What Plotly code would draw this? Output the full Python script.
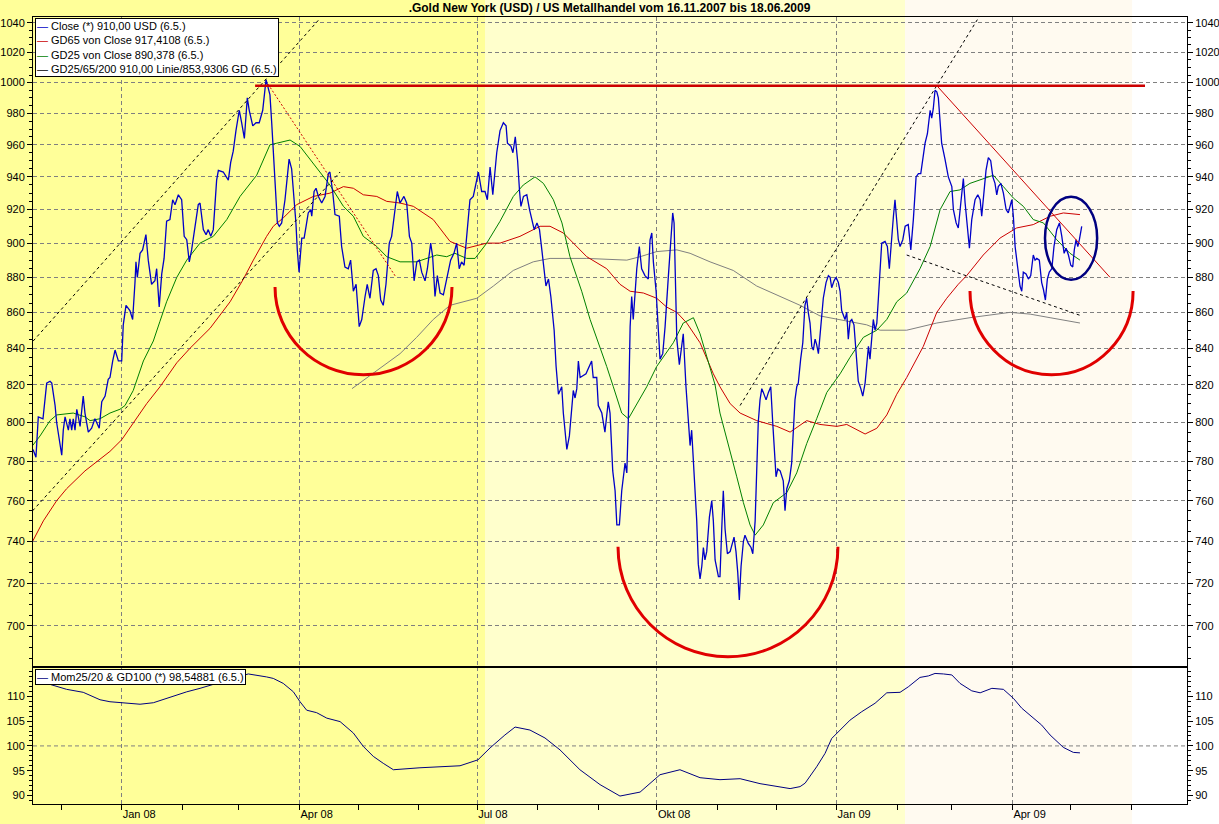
import math

import pandas as pd
import plotly.graph_objects as go

# day offsets are calendar days counted from 16.11.2007
START = pd.Timestamp("2007-11-16")

close_day = [
    0.6, 2.1, 3.3, 5.7, 7.6, 9.3, 10.2, 11.9, 12.7, 15.3,
    16.1, 17.0, 18.7, 19.5, 20.4, 21.2, 22.1, 23.0, 23.8, 24.7,
    26.3, 27.2, 28.9, 30.6, 32.3, 33.2, 34.5, 35.8, 37.5, 39.1,
    40.0, 41.4, 42.6, 44.3, 46.0, 46.8, 48.2, 50.2, 51.6, 52.8,
    53.3, 54.0, 55.4, 56.7, 58.4, 59.6, 61.3, 63.0, 63.9, 65.2,
    66.5, 67.7, 69.0, 70.7, 72.1, 73.3, 75.0, 76.7, 78.0, 79.3,
    80.6, 81.8, 83.5, 85.2, 86.1, 87.8, 89.2, 90.3, 91.6, 92.9,
    94.6, 95.5, 98.0, 100.6, 101.8, 103.1, 104.5, 106.2, 107.4, 108.8,
    110.3, 111.3, 113.1, 114.8, 116.4, 118.2, 119.9, 121.9, 122.8, 124.0,
    125.0, 125.7, 126.7, 127.9, 129.6, 130.8, 131.7, 133.0, 134.2, 135.2,
    135.9, 136.8, 138.2, 139.4, 140.4, 141.5, 142.8, 143.3, 144.5, 145.5,
    146.7, 148.4, 150.1, 151.8, 152.6, 154.0, 155.2, 157.4, 158.6, 160.3,
    162.0, 163.2, 164.6, 166.0, 167.6, 168.9, 170.6, 171.7, 173.1, 174.8,
    176.2, 177.4, 178.6, 179.9, 181.3, 183.0, 184.2, 185.9, 187.1, 188.5,
    190.5, 191.9, 193.3, 194.5, 195.7, 197.1, 198.4, 199.6, 201.3, 202.5,
    204.2, 205.2, 206.4, 207.6, 209.0, 210.7, 212.4, 214.4, 216.1, 217.5,
    218.8, 220.0, 221.3, 222.6, 224.3, 226.0, 228.6, 230.3, 232.0, 233.2,
    234.6, 236.0, 238.0, 239.7, 241.4, 242.8, 243.5, 245.3, 246.3, 247.5,
    248.7, 249.7, 250.4, 251.7, 253.4, 254.8, 256.0, 257.2, 258.6, 259.9,
    261.1, 261.9, 263.2, 264.5, 265.7, 267.4, 268.4, 269.6, 271.3, 272.1,
    273.9, 275.2, 276.4, 277.2, 278.1, 279.0, 279.8, 280.7, 283.7, 286.6,
    287.4, 289.2, 290.0, 291.8, 293.4, 295.1, 296.0, 297.4, 298.6, 299.5,
    300.8, 302.0, 303.7, 304.6, 305.4, 306.3, 307.1, 307.9, 309.7, 311.0,
    312.2, 313.9, 315.6, 316.5, 317.4, 318.2, 319.6, 320.7, 321.6, 323.0,
    324.2, 325.9, 327.1, 328.1, 328.8, 329.3, 330.2, 331.5, 332.7, 333.5,
    334.9, 336.1, 337.0, 337.8, 338.7, 339.5, 340.4, 341.2, 342.1, 343.0,
    343.8, 344.6, 345.5, 346.9, 348.1, 348.9, 349.8, 351.5, 352.3, 353.2,
    354.0, 354.9, 356.1, 357.5, 358.6, 359.5, 360.5, 361.4, 362.2, 363.1,
    364.3, 365.1, 366.8, 368.2, 369.1, 369.7, 370.3, 371.1, 371.9, 372.8,
    373.7, 374.5, 375.9, 377.1, 378.3, 379.3, 380.5, 381.0, 381.9, 383.1,
    384.7, 385.6, 386.5, 387.8, 389.0, 389.9, 390.7, 391.6, 392.4, 393.6,
    394.7, 395.8, 396.7, 397.5, 398.4, 399.3, 400.1, 401.0, 401.8, 402.7,
    403.5, 404.4, 405.2, 406.6, 407.8, 408.7, 409.5, 410.7, 411.7, 412.9,
    413.8, 414.6, 415.5, 416.3, 417.2, 418.0, 418.9, 419.8, 420.9, 422.0,
    423.1, 424.4, 425.4, 426.6, 427.4, 428.3, 429.1, 430.0, 430.8, 431.7,
    432.6, 433.4, 434.3, 435.1, 436.8, 438.0, 439.0, 440.2, 441.1, 441.9,
    442.8, 443.6, 444.5, 445.9, 447.1, 448.7, 450.0, 451.3, 452.7, 453.9,
    455.1, 456.1, 457.3, 458.5, 459.9, 460.7, 461.5, 462.4, 463.3, 464.1,
    465.8, 467.5, 469.2, 471.0, 471.8, 473.2, 474.3, 475.6, 476.9, 477.8,
    479.0, 480.0, 481.2, 482.9, 484.3, 485.5, 486.3, 487.1, 488.5, 489.7,
    490.9, 492.0, 493.1, 494.0, 494.8, 496.1, 497.4, 498.8, 499.9, 500.8,
    501.7, 502.5, 503.4, 504.8, 505.9, 506.8, 507.6, 509.0, 510.2, 511.4,
    512.7, 513.6, 514.5, 515.8, 517.0, 517.9, 518.9, 519.9, 520.9, 522.2,
    523.3, 524.7, 526.1, 527.3, 528.5, 529.5, 530.7, 531.9, 532.9, 533.7,
    534.6, 535.5, 536.3, 537.5,
]
close_val = [
    786, 782, 803, 802, 821, 822, 821, 809, 800, 783,
    796, 803, 796, 802, 796, 802, 796, 807, 803, 798,
    814, 805, 795, 797, 802, 800, 797, 811, 814, 823,
    824, 833, 839, 833, 833, 853, 864, 861, 856, 877,
    889, 880, 894, 896, 905, 890, 876, 878, 885, 863,
    882, 891, 913, 914, 926, 923, 929, 926, 904, 902,
    889, 896, 910, 923, 924, 908, 905, 908, 904, 908,
    938, 944, 943, 938, 949, 956, 969, 982, 974, 964,
    990, 982, 972, 974, 974, 982, 1002, 992, 974, 950,
    931, 912, 910, 912, 926, 942, 951, 945, 928, 912,
    896, 883, 903, 903, 910, 918, 920, 916, 931, 933,
    928, 924, 928, 942, 943, 931, 917, 916, 898, 886,
    885, 890, 872, 876, 852, 856, 869, 876, 868, 884,
    885, 881, 867, 864, 876, 900, 904, 920, 931, 924,
    928, 924, 904, 900, 878, 889, 890, 883, 878, 885,
    900, 892, 869, 881, 871, 870, 880, 890, 894, 900,
    885, 889, 887, 904, 926, 928, 943, 931, 931, 926,
    946, 929, 955, 969, 974, 972, 961, 959, 955, 965,
    950, 931, 922, 928, 929, 920, 914, 908, 912, 908,
    896, 889, 875, 879, 869, 850, 830, 815, 819, 805,
    786, 793, 809, 817, 813, 818, 833, 824, 826, 833,
    824, 824, 809, 805, 795, 811, 805, 775, 765, 748,
    748, 765, 779, 774, 802, 852, 869, 856, 885, 898,
    885, 881, 879, 902, 906, 889, 872, 850, 834, 837,
    852, 881, 904, 918, 912, 885, 845, 831, 843, 848,
    819, 800, 788, 796, 780, 770, 750, 729, 722, 728,
    737, 731, 735, 752, 760, 750, 731, 723, 723, 746,
    765, 746, 734, 735, 739, 742, 735, 725, 712, 728,
    740, 743, 739, 737, 734, 742, 750, 775, 800, 812,
    818, 816, 812, 816, 819, 800, 779, 772, 776, 775,
    770, 755, 766, 770, 779, 800, 812, 819, 821, 834,
    843, 864, 868, 860, 854, 841, 839, 845, 842, 837,
    846, 858, 868, 877, 881, 880, 874, 878, 880, 877,
    872, 861, 858, 856, 860, 845, 855, 856, 853, 839,
    822, 818, 814, 821, 832, 841, 834, 848, 856, 850,
    854, 868, 885, 900, 901, 898, 885, 906, 916, 926,
    914, 902, 898, 902, 910, 911, 896, 914, 940, 942,
    942, 951, 961, 967, 982, 977, 983, 995, 994, 990,
    961, 951, 940, 934, 920, 912, 909, 924, 939, 924,
    910, 897, 914, 926, 929, 926, 916, 926, 944, 952,
    950, 940, 936, 929, 934, 936, 930, 920, 918, 922,
    926, 916, 898, 885, 875, 872, 883, 882, 879, 881,
    893, 890, 891, 890, 877, 873, 867, 879, 883, 885,
    898, 908, 912, 904, 894, 897, 893, 887, 886, 896,
    902, 898, 902, 910,
]

gd65_day = [
    0.4, 5.9, 12.7, 17.8, 27.2, 34.9, 40.0, 46.0, 51.9, 58.8,
    65.6, 74.2, 81.0, 91.2, 101.5, 108.3, 113.4, 120.2, 123.6, 128.7,
    135.6, 144.1, 152.6, 159.5, 164.6, 169.7, 176.6, 181.7, 188.5, 195.3,
    205.5, 214.1, 222.6, 232.9, 239.7, 249.9, 260.2, 265.3, 272.1, 277.2,
    284.1, 294.3, 301.1, 306.3, 313.1, 319.9, 325.0, 330.2, 335.3, 342.1,
    348.9, 352.3, 357.5, 362.6, 371.1, 381.4, 388.2, 396.7, 403.5, 412.1,
    417.2, 426.6, 432.6, 437.7, 442.8, 447.9, 456.4, 463.3, 468.4, 474.3,
    478.6, 487.1, 495.7, 504.2, 512.7, 521.3, 528.1, 536.6,
]
gd65_val = [
    740, 750, 760, 766, 775, 781, 785, 791, 800, 810,
    819, 832, 840, 851, 866, 879, 890, 904, 910, 915,
    923, 928, 930, 934, 933, 929, 928, 925, 924, 922,
    914, 901, 897, 900, 900, 904, 910, 910, 906, 900,
    892, 885, 876, 872, 871, 868, 863, 860, 854, 843,
    826, 819, 810, 805, 801, 798, 795, 801, 799, 798,
    799, 794, 797, 804, 815, 824, 841, 860, 868, 876,
    881, 893, 903, 909, 911, 916, 918, 917,
]

gd25_day = [
    0.4, 4.2, 9.3, 12.7, 21.2, 27.2, 29.8, 34.9, 40.0, 45.1,
    47.7, 51.9, 57.1, 62.2, 65.6, 69.0, 74.2, 79.3, 86.1, 92.9,
    99.8, 106.6, 115.1, 121.9, 125.4, 132.2, 137.3, 144.1, 152.6, 159.5,
    164.6, 169.7, 176.6, 181.7, 188.5, 197.0, 207.3, 212.4, 216.6, 222.6,
    226.9, 232.9, 239.7, 246.5, 251.6, 257.6, 261.9, 267.0, 271.4, 275.5,
    281.5, 285.8, 290.9, 294.3, 297.7, 302.0, 305.4, 309.7, 314.8, 319.9,
    328.4, 333.5, 338.7, 342.1, 345.5, 349.8, 352.3, 356.6, 360.9, 364.3,
    367.7, 370.3, 374.5, 379.6, 386.5, 391.6, 396.7, 401.8, 407.0, 413.8,
    418.9, 425.7, 432.6, 437.7, 442.8, 447.9, 454.7, 459.9, 465.0, 470.1,
    475.2, 480.3, 487.1, 492.3, 497.4, 502.5, 507.6, 512.7, 517.9, 524.7,
    531.5, 536.6,
]
gd25_val = [
    788, 793, 801, 804, 805, 803, 801, 802, 805, 807,
    809, 817, 833, 844, 855, 866, 880, 890, 900, 904,
    914, 928, 941, 960, 961, 963, 959, 948, 935, 922,
    916, 904, 898, 892, 889, 889, 893, 892, 894, 891,
    891, 900, 913, 928, 935, 940, 936, 926, 912, 892,
    872, 856, 841, 830, 819, 805, 802, 810, 819, 830,
    843, 854, 857, 848, 835, 820, 805, 789, 772, 759,
    748, 743, 748, 759, 764, 774, 789, 802, 816, 826,
    835, 846, 850, 856, 866, 871, 885, 898, 920, 931,
    932, 936, 939, 941, 934, 927, 922, 914, 912, 902,
    894, 890,
]

gd200_day = [
    163.9, 188.5, 197.0, 205.5, 214.1, 227.8, 236.3, 246.5, 256.7, 265.3,
    284.1, 304.6, 311.4, 319.9, 330.2, 337.0, 347.2, 359.1, 371.1, 383.1,
    393.3, 403.5, 413.8, 427.4, 434.3, 447.9, 463.3, 480.3, 500.8, 511.1,
    521.3, 536.6,
]
gd200_val = [
    818, 837, 846, 856, 864, 868, 875, 884, 889, 891,
    891, 890, 892, 895, 896, 894, 889, 884, 875, 869,
    864, 858, 856, 853, 850, 850, 854, 857, 860, 859,
    857, 854,
]

mom_day = [
    4.2, 13.5, 17.8, 26.3, 34.9, 40.0, 46.0, 55.4, 62.2, 69.0,
    79.3, 86.1, 96.3, 104.0, 110.8, 120.2, 123.6, 128.7, 133.9, 137.3,
    140.7, 145.8, 151.0, 157.8, 164.6, 169.7, 174.8, 179.9, 185.1, 198.7,
    219.2, 228.4, 234.6, 242.2, 247.4, 255.0, 262.7, 270.4, 280.6, 290.9,
    301.1, 311.4, 321.6, 331.8, 342.1, 352.3, 362.6, 372.8, 388.2, 393.3,
    395.9, 401.8, 406.1, 409.5, 413.8, 418.9, 424.9, 431.7, 437.7, 444.5,
    448.7, 454.7, 459.0, 462.4, 466.7, 471.0, 475.2, 481.2, 485.5, 491.5,
    497.4, 502.5, 506.8, 512.7, 517.0, 521.3, 528.1, 533.2, 536.6,
]
mom_val = [
    113.0, 111.9, 111.4, 110.8, 109.3, 108.9, 108.7, 108.4, 108.7, 109.6,
    110.9, 111.6, 112.8, 113.8, 114.5, 113.9, 113.6, 112.6, 110.9, 108.9,
    107.2, 106.7, 105.6, 104.9, 102.6, 99.9, 97.9, 96.5, 95.2, 95.6,
    96.0, 97.2, 99.6, 102.2, 103.8, 103.2, 101.6, 99.2, 95.2, 92.2,
    89.9, 90.7, 94.2, 95.2, 93.6, 93.2, 93.4, 92.4, 91.4, 91.8,
    92.5, 95.8, 98.5, 101.5, 103.2, 105.2, 106.9, 108.6, 110.7, 110.8,
    111.9, 113.8, 114.1, 114.6, 114.5, 114.3, 112.6, 111.1, 110.7, 111.6,
    111.4, 109.6, 107.6, 105.6, 104.2, 102.2, 99.7, 98.7, 98.6,
]

quarter_ticks = ["2008-01-01", "2008-04-01", "2008-07-01", "2008-10-01", "2009-01-01", "2009-04-01"]
quarter_text = ["Jan 08", "Apr 08", "Jul 08", "Okt 08", "Jan 09", "Apr 09"]
price_ticks = list(range(700, 1041, 20))
mom_ticks = [90, 95, 100, 105, 110]

legend_main = [
    ("#0000C8", "Close (*) 910,00 USD (6.5.)"),
    ("#CC0000", "GD65 von Close 917,4108 (6.5.)"),
    ("#008000", "GD25 von Close 890,378 (6.5.)"),
    ("black", "GD25/65/200 910,00 Linie/853,9306 GD (6.5.)"),
]
legend_mom = [("#000080", "Mom25/20 & GD100 (*) 98,54881 (6.5.)")]

X_RANGE = (0.59, 591.4)
PRICE_RANGE = (681.4, 1044.0)
MOM_RANGE = (88.3, 115.9)
SPLIT = 0.17408
GRID = "#808080"
FONT = "Liberation Sans, Arial, sans-serif"


def to_date(d):
    return START + pd.to_timedelta(d, unit="D")


def dates(days):
    return [to_date(d) for d in days]


def xfrac(d):
    return (d - X_RANGE[0]) / (X_RANGE[1] - X_RANGE[0])


def pdate(d):
    return to_date(d).strftime("%Y-%m-%d_%H:%M:%S")


def arc_path(d_left, d_right, v_top, v_bottom):
    # lower half circle drawn with two cubic segments
    k = 0.5523
    lt, lb = math.log10(v_top), math.log10(v_bottom)
    v_mid = 10 ** (lt + k * (lb - lt))
    hw = (d_right - d_left) / 2
    dm = d_left + hw
    pts = [(d_left, v_top), (d_left, v_mid), (dm - k * hw, v_bottom), (dm, v_bottom),
           (dm + k * hw, v_bottom), (d_right, v_mid), (d_right, v_top)]
    s = [f"{pdate(d)},{v:.2f}" for d, v in pts]
    return f"M{s[0]} C{s[1]} {s[2]} {s[3]} C{s[4]} {s[5]} {s[6]}"


def legend_box(entries, y):
    text = "<br>".join(f"<span style='color:{c}'>—</span> {t}" for c, t in entries)
    return dict(xref="paper", yref="paper", x=0.0017, y=y, xanchor="left", yanchor="top",
                text=text, showarrow=False, align="left", bgcolor="white",
                bordercolor="black", borderwidth=1, borderpad=1,
                font=dict(family=FONT, size=11, color="black"))


fig = go.Figure()

fig.add_trace(go.Scatter(x=dates(gd200_day), y=gd200_val, mode="lines",
                         line=dict(color="#808080", width=1), xaxis="x", yaxis="y"))
fig.add_trace(go.Scatter(x=dates(gd65_day), y=gd65_val, mode="lines",
                         line=dict(color="#CC0000", width=1), xaxis="x", yaxis="y"))
fig.add_trace(go.Scatter(x=dates(gd25_day), y=gd25_val, mode="lines",
                         line=dict(color="#008000", width=1), xaxis="x", yaxis="y"))
fig.add_trace(go.Scatter(x=dates(close_day), y=close_val, mode="lines",
                         line=dict(color="#0000C8", width=1.3), xaxis="x", yaxis="y"))
fig.add_trace(go.Scatter(x=[None], y=[None], mode="lines", xaxis="x", yaxis="y2"))
fig.add_trace(go.Scatter(x=dates(mom_day), y=mom_val, mode="lines",
                         line=dict(color="#000080", width=1), xaxis="x2", yaxis="y3"))
fig.add_trace(go.Scatter(x=[None], y=[None], mode="lines", xaxis="x2", yaxis="y4"))

shapes = []
# background bands, spanning the whole picture height
bands = [(-0.03, xfrac(232.0), "#FFFF99"), (xfrac(232.0), xfrac(447.1), "#FFFFCC"),
         (xfrac(447.1), xfrac(563.3), "#FFFAF0")]
for x0, x1, col in bands:
    shapes.append(dict(type="rect", xref="paper", yref="paper", x0=x0, x1=x1,
                       y0=-0.03, y1=1.03, fillcolor=col, line_width=0, layer="below"))

dash_black = dict(color="black", width=1, dash="3px,3px")
for (d0, v0, d1, v1) in [(0.7, 844, 147.5, 1043), (0.4, 755, 157.8, 943),
                         (362.6, 809, 484.9, 1044), (447.9, 893, 537.5, 858)]:
    shapes.append(dict(type="line", xref="x", yref="y", x0=to_date(d0), y0=v0,
                       x1=to_date(d1), y1=v1, line=dash_black))
shapes.append(dict(type="line", xref="x", yref="y", x0=to_date(120.9), y0=999,
                   x1=to_date(186.5), y1=880, line=dict(color="#CC0000", width=1, dash="2px,2px")))
shapes.append(dict(type="line", xref="x", yref="y", x0=to_date(463.3), y0=998,
                   x1=to_date(552.0), y1=880, line=dict(color="#CC0000", width=1)))
shapes.append(dict(type="line", xref="x", yref="y", x0=to_date(114.3), y0=998,
                   x1=to_date(569.9), y1=998, line=dict(color="#CC0000", width=2.5)))

for (dl, dr, vt, vb) in [(124.5, 215.1, 874.5, 825.5), (300.1, 412.7, 737.4, 686.0),
                         (480.3, 563.8, 872.2, 825.5)]:
    shapes.append(dict(type="path", xref="x", yref="y", path=arc_path(dl, dr, vt, vb),
                       line=dict(color="#E00000", width=3)))
shapes.append(dict(type="circle", xref="x", yref="y", x0=to_date(518.7), x1=to_date(545.4),
                   y0=878.6, y1=927.8, line=dict(color="#000080", width=2.5)))

shapes.append(dict(type="line", xref="paper", yref="y3", x0=0, x1=1, y0=100, y1=100,
                   line=dict(color=GRID, width=1, dash="4px,3px"), layer="below"))
shapes.append(dict(type="line", xref="paper", yref="paper", x0=0, x1=1, y0=SPLIT, y1=SPLIT,
                   line=dict(color="black", width=2)))

price_axis = dict(type="log", range=[math.log10(PRICE_RANGE[0]), math.log10(PRICE_RANGE[1])],
                  tickmode="array", tickvals=price_ticks, ticks="outside", ticklen=5,
                  tickcolor="black", showline=True, linecolor="black", zeroline=False,
                  minor=dict(tickmode="array", tickvals=[v for v in range(685, 1045, 5) if v % 20],
                             ticks="outside", ticklen=3, tickcolor="black", showgrid=False),
                  domain=[SPLIT, 1], anchor="x", automargin=False)
mom_axis = dict(range=list(MOM_RANGE), tickmode="array", tickvals=mom_ticks, ticks="outside",
                ticklen=5, tickcolor="black", showline=True, linecolor="black", zeroline=False,
                showgrid=False, minor=dict(dtick=1, ticks="outside", ticklen=3, tickcolor="black",
                                           showgrid=False),
                domain=[0, SPLIT], anchor="x2", automargin=False)
time_axis = dict(type="date", range=[to_date(X_RANGE[0]), to_date(X_RANGE[1])],
                 tickmode="array", tickvals=quarter_ticks, ticktext=quarter_text,
                 showgrid=True, gridcolor=GRID, griddash="4px,3px", gridwidth=1,
                 showline=True, linecolor="black", zeroline=False, automargin=False)

fig.update_layout(
    width=1219,
    height=824,
    margin=dict(l=33, r=32, t=17, b=20),
    paper_bgcolor="white",
    plot_bgcolor="rgba(0,0,0,0)",
    font=dict(family=FONT, size=11, color="black"),
    title=dict(text="<b>.Gold New York (USD) / US Metallhandel vom 16.11.2007 bis 18.06.2009</b>",
               x=0.5, xanchor="center", y=1 - 8 / 824, yanchor="middle",
               font=dict(family=FONT, size=12, color="black")),
    showlegend=False,
    annotations=[legend_box(legend_main, 0.9987), legend_box(legend_mom, 0.1715)],
    xaxis=dict(time_axis, anchor="y", domain=[0, 1], showticklabels=False, ticks="", mirror=True),
    xaxis2=dict(time_axis, anchor="y3", domain=[0, 1], matches="x", ticks="outside", ticklen=5,
                tickcolor="black", ticklabelposition="outside right",
                minor=dict(dtick="M1", tick0="2008-01-01", ticks="outside", ticklen=5,
                           tickcolor="black", showgrid=False)),
    yaxis=dict(price_axis, side="left", showgrid=True, gridcolor=GRID, griddash="4px,3px"),
    yaxis2=dict(price_axis, side="right", overlaying="y", showgrid=False),
    yaxis3=dict(mom_axis, side="left"),
    yaxis4=dict(mom_axis, side="right", overlaying="y3"),
    shapes=shapes,
    hovermode=False,
)

# the page body should not add its default 8px margin around the chart
fig.write_html("out.html", config={"displayModeBar": False},
               post_script="document.body.style.margin='0px';")
